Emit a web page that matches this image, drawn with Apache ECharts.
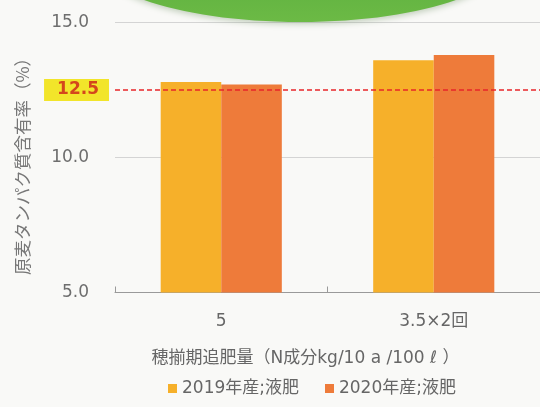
<!DOCTYPE html>
<html>
<head>
<meta charset="utf-8">
<script src="https://cdn.jsdelivr.net/npm/echarts@6/dist/echarts.min.js"></script>
<style>
  html, body { margin: 0; padding: 0; background: #f9f9f7; }
  #chart { width: 540px; height: 407px; }
</style>
</head>
<body>
<div id="chart"></div>
<script>
// Topdressing amount at heading stage
const categories = ['5', '3.5×2回'];
const seriesNames = ['2019年産;液肥', '2020年産;液肥'];
const values2019 = [12.8, 13.6];
const values2020 = [12.7, 13.8];
const targetLevel = 12.5;
const yTicks = { min: 5, max: 15, interval: 5 };

const FONT = '"DejaVu Sans", "Noto Sans CJK JP", sans-serif';
const CJK_FONT = '"Noto Sans CJK JP", "Noto Sans", sans-serif';
const chart = echarts.init(document.getElementById('chart'), null, { renderer: 'canvas' });

chart.setOption({
  backgroundColor: '#f9f9f7',
  animation: false,
  textStyle: { fontFamily: FONT },
  graphic: [
    {
      // green banner shape peeking in at the top
      type: 'ellipse',
      shape: { cx: 300, cy: -40, rx: 204, ry: 62 },
      style: {
        fill: new echarts.graphic.LinearGradient(0, 0, 0, 1, [
          { offset: 0, color: '#48a338' },
          { offset: 1, color: '#6cba45' }
        ]),
        shadowBlur: 6,
        shadowColor: 'rgba(120,150,110,0.45)',
        shadowOffsetY: 2
      },
      z: 100
    },
    {
      // y-axis title
      type: 'text',
      x: 22,
      y: 162,
      rotation: Math.PI / 2,
      style: {
        text: '原麦タンパク質含有率（%）',
        fontSize: 17.5,
        fontFamily: CJK_FONT,
        fill: '#777',
        align: 'center',
        verticalAlign: 'middle'
      }
    }
  ],
  grid: { left: 115, right: -3, top: 22.5, bottom: 114.5 },
  legend: {
    left: 163,
    top: 375,
    itemWidth: 9,
    itemHeight: 9,
    itemGap: 26,
    icon: 'rect',
    textStyle: { fontSize: 17, color: '#666', fontFamily: FONT },
    data: seriesNames
  },
  xAxis: {
    type: 'category',
    data: categories,
    name: '穂揃期追肥量（N成分kg/10 a /100 ℓ ）',
    nameLocation: 'middle',
    nameGap: 58,
    nameTextStyle: { fontSize: 17, color: '#666', fontFamily: FONT, padding: [0, 44, 0, 0] },
    axisLine: { lineStyle: { color: '#9a9a9a', width: 1 } },
    axisTick: { show: true, inside: true, length: 6, lineStyle: { color: '#9a9a9a' } },
    axisLabel: { fontSize: 17, color: '#666', margin: 21, fontFamily: FONT }
  },
  yAxis: {
    type: 'value',
    min: yTicks.min,
    max: yTicks.max,
    interval: yTicks.interval,
    axisLine: { show: false },
    axisTick: { show: false },
    axisLabel: {
      fontSize: 17, color: '#6e6e6e', margin: 26, fontFamily: FONT,
      formatter: v => v.toFixed(1)
    },
    splitLine: { lineStyle: { color: '#d4d4d4', width: 1 } }
  },
  series: [
    {
      name: seriesNames[0],
      type: 'bar',
      data: values2019,
      barGap: '0%',
      barCategoryGap: '43%',
      itemStyle: { color: '#f6b02a' },
      markLine: {
        symbol: 'none',
        silent: true,
        lineStyle: { color: '#e8262a', type: [5, 3], width: 1.5 },
        label: {
          position: 'start',
          distance: 6,
          formatter: () => targetLevel.toFixed(1),
          color: '#d4461c',
          fontWeight: 'bold',
          fontSize: 17,
          fontFamily: FONT,
          backgroundColor: '#f2e52a',
          padding: [3, 10, 2, 13]
        },
        data: [{ yAxis: targetLevel }],
        z: 10
      }
    },
    {
      name: seriesNames[1],
      type: 'bar',
      data: values2020,
      itemStyle: { color: '#ee7b3a' }
    }
  ]
});
</script>
</body>
</html>
